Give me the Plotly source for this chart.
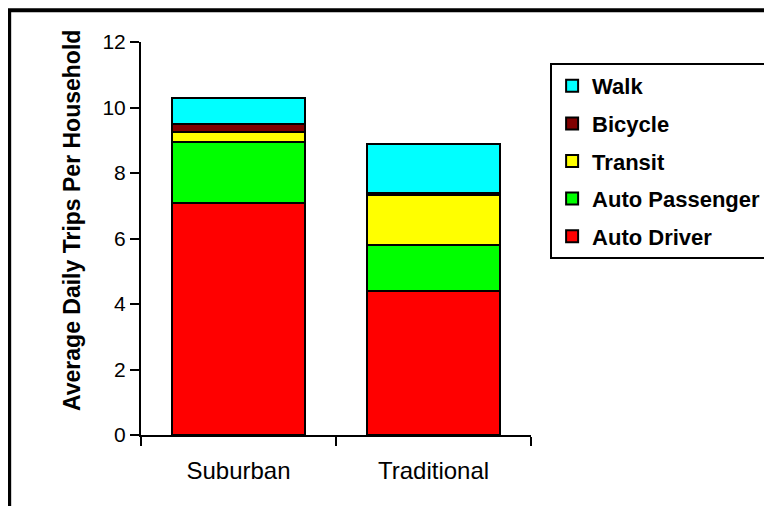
import plotly.graph_objects as go

categories = ["Suburban", "Traditional"]
series_names = ["Auto Driver", "Auto Passenger", "Transit", "Bicycle", "Walk"]
auto_driver = [7.07, 4.39]
auto_passenger = [1.89, 1.40]
transit = [0.30, 1.55]
bicycle = [0.24, 0.05]
walk = [0.80, 1.51]
y_ticks = [0, 2, 4, 6, 8, 10, 12]

series_values = [auto_driver, auto_passenger, transit, bicycle, walk]
colors = ["#FF0000", "#00FF00", "#FFFF00", "#800000", "#00FFFF"]

fig = go.Figure()
for i, (name, vals, col) in enumerate(zip(series_names, series_values, colors)):
    fig.add_trace(go.Bar(
        x=categories, y=vals, name=name, legendgroup=name,
        legendrank=len(series_names) - i,
        marker=dict(color=col, line=dict(color="black", width=2)),
        width=0.68,
    ))

font_family = "Liberation Sans, Arial, sans-serif"

fig.update_layout(
    barmode="stack",
    width=772, height=506,
    margin=dict(l=133, r=249, t=34, b=79),
    paper_bgcolor="white", plot_bgcolor="white",
    font=dict(family=font_family, color="black"),
    showlegend=True,
    legend=dict(
        x=1.049, xanchor="left", y=0.9466, yanchor="top",
        traceorder="grouped", tracegroupgap=6,
        bordercolor="black", borderwidth=2, bgcolor="white",
        font=dict(family=font_family, size=22, color="black", weight="bold"),
        itemwidth=30,
    ),
    xaxis=dict(
        showline=True, linecolor="black", linewidth=2,
        ticks="outside", tickson="boundaries", ticklen=9, tickcolor="black", tickwidth=2,
        tickfont=dict(family=font_family, size=24, color="black"),
        ticklabelstandoff=13,
        showgrid=False, zeroline=False,
    ),
    yaxis=dict(
        range=[0, 12], tickvals=y_ticks, ticktext=[str(v) for v in y_ticks],
        showline=True, linecolor="black", linewidth=2,
        ticks="outside", ticklen=9, tickcolor="black", tickwidth=2,
        tickfont=dict(family=font_family, size=21, color="black"),
        showgrid=False, zeroline=False,
    ),
    annotations=[dict(
        text="Average Daily Trips Per Household", textangle=-90,
        xref="paper", yref="paper", x=-0.177, y=0.547,
        xanchor="center", yanchor="middle", showarrow=False,
        font=dict(family=font_family, size=23, color="black", weight="bold"),
    )],
    shapes=[dict(type="rect", xref="paper", yref="paper",
                 x0=-0.338, x1=1.7, y0=-0.25, y1=1.081,
                 line=dict(color="black", width=4), fillcolor="rgba(0,0,0,0)",
                 layer="below")],
)

fig.write_html("out.html")
